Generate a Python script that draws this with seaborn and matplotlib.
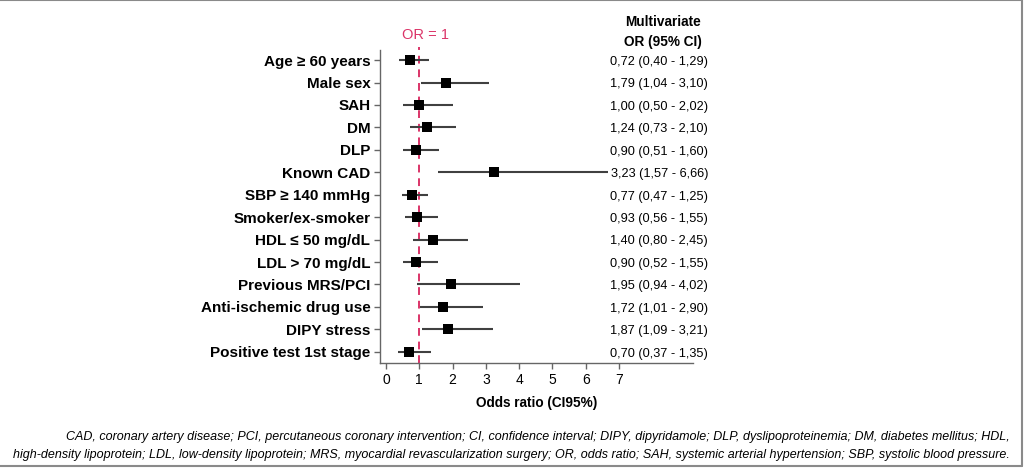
import numpy as np
import pandas as pd
import seaborn as sns
import matplotlib.pyplot as plt
from matplotlib.lines import Line2D

factors = ["Age ≥ 60 years", "Male sex", "SAH", "DM", "DLP", "Known CAD",
           "SBP ≥ 140 mmHg", "Smoker/ex-smoker", "HDL ≤ 50 mg/dL",
           "LDL > 70 mg/dL", "Previous MRS/PCI", "Anti-ischemic drug use",
           "DIPY stress", "Positive test 1st stage"]
odds = [0.72, 1.79, 1.00, 1.24, 0.90, 3.23, 0.77, 0.93, 1.40, 0.90, 1.95, 1.72, 1.87, 0.70]
ci_low = [0.40, 1.04, 0.50, 0.73, 0.51, 1.57, 0.47, 0.56, 0.80, 0.52, 0.94, 1.01, 1.09, 0.37]
ci_high = [1.29, 3.10, 2.02, 2.10, 1.60, 6.66, 1.25, 1.55, 2.45, 1.55, 4.02, 2.90, 3.21, 1.35]
x_ticks = [0, 1, 2, 3, 4, 5, 6, 7]

footnote = ("CAD, coronary artery disease; PCI, percutaneous coronary intervention; CI, confidence interval; "
            "DIPY, dipyridamole; DLP, dyslipoproteinemia; DM, diabetes mellitus; HDL,\n"
            "high-density lipoprotein; LDL, low-density lipoprotein; MRS, myocardial revascularization surgery; "
            "OR, odds ratio; SAH, systemic arterial hypertension; SBP, systolic blood pressure.")

df = pd.DataFrame({"factor": factors, "odds": odds, "low": ci_low, "high": ci_high})
df["pos"] = np.arange(len(df))

sns.set_style("ticks")
plt.rcParams["font.family"] = ["Liberation Sans", "DejaVu Sans"]
plt.rcParams["text.color"] = "black"
plt.rcParams["axes.labelcolor"] = "black"
plt.rcParams["xtick.color"] = "black"
plt.rcParams["ytick.color"] = "black"

red = "#db3468"

fig = plt.figure(figsize=(10.24, 4.68), dpi=100)
ax = fig.add_axes([380 / 1024, 1 - 363 / 468, 313 / 1024, 313 / 468])

ax.axvline(1, ymax=1.01, color=red, lw=1.4, ls=(0, (4, 3)), zorder=1, clip_on=False)
ax.hlines(df["pos"], df["low"], df["high"], color="#404040", lw=1.5, zorder=2)
sns.scatterplot(data=df, x="odds", y="pos", marker="s", s=60, color="black",
                edgecolor="black", linewidth=0, ax=ax, zorder=3)

ax.set_xlim(-0.18, 9.22)
ax.set_ylim(len(df) - 0.5, -0.45)
ax.set_xticks(x_ticks)
ax.set_xticklabels([str(t) for t in x_ticks], fontsize=10)
ax.set_yticks(df["pos"])
ax.set_yticklabels(df["factor"], fontsize=11, fontweight="bold")
ax.tick_params(axis="both", length=4, width=1, color="#666666", pad=3)
ax.set_xlabel("Odds ratio (CI95%)", fontsize=9.8, fontweight="bold", labelpad=7)
ax.set_ylabel("")
sns.despine(ax=ax)
for s in ["left", "bottom"]:
    ax.spines[s].set_color("#666666")
    ax.spines[s].set_linewidth(1)

for _, r in df.iterrows():
    ax.text(1.048, r["pos"] + 0.08,
            f"{r['odds']:.2f} ({r['low']:.2f} - {r['high']:.2f})".replace(".", ","),
            transform=ax.get_yaxis_transform(), ha="right", va="center", fontsize=9.2)

fig.text(663 / 1024, 1 - 22 / 468, "Multivariate", ha="center", va="center",
         fontsize=9.8, fontweight="bold")
fig.text(663 / 1024, 1 - 42 / 468, "OR (95% CI)", ha="center", va="center",
         fontsize=9.8, fontweight="bold")
fig.text(425 / 1024, 1 - 35 / 468, "OR = 1", ha="center", va="center",
         fontsize=10.5, color=red)

fig.text(1010 / 1024, 1 - 446 / 468, footnote, ha="right", va="center",
         fontsize=9.0, style="italic", linespacing=1.7)

border = "#8a8a8a"
fig.add_artist(Line2D([0, 0.998], [0.999, 0.999], transform=fig.transFigure, color=border, lw=1.5))
fig.add_artist(Line2D([0, 0.998], [0.004, 0.004], transform=fig.transFigure, color=border, lw=1.5))
fig.add_artist(Line2D([0.998, 0.998], [0.004, 0.999], transform=fig.transFigure, color=border, lw=1.5))

fig.savefig("out.png", dpi=100)
